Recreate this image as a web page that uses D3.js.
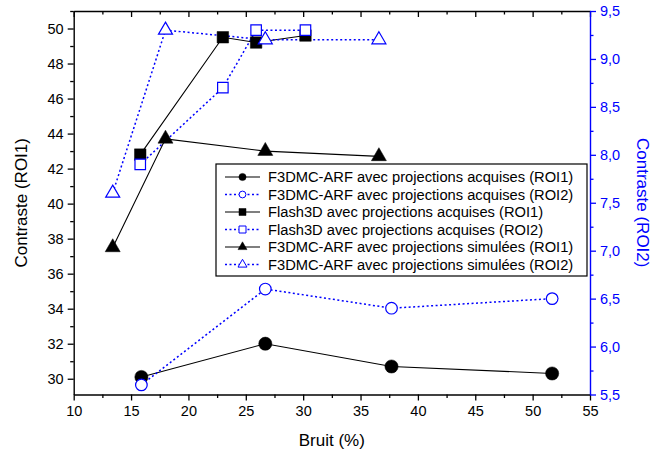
<!DOCTYPE html>
<html>
<head>
<meta charset="utf-8">
<script src="https://cdn.jsdelivr.net/npm/d3@7"></script>
<style>
  html, body { margin: 0; padding: 0; background: #fff; }
  svg { display: block; font-family: "Liberation Sans", Arial, sans-serif; }
</style>
</head>
<body>
<svg id="chart" width="651" height="459"></svg>
<script>
// ---------------- DATA ----------------
const xMajorTicks = [10, 15, 20, 25, 30, 35, 40, 45, 50, 55];
const xMinorTicks = [12.5, 17.5, 22.5, 27.5, 32.5, 37.5, 42.5, 47.5, 52.5];
const leftMajorTicks = [30, 32, 34, 36, 38, 40, 42, 44, 46, 48, 50];
const leftMinorTicks = [31, 33, 35, 37, 39, 41, 43, 45, 47, 49, 51];
const rightMajorTicks = [5.5, 6.0, 6.5, 7.0, 7.5, 8.0, 8.5, 9.0, 9.5];
const rightMinorTicks = [5.75, 6.25, 6.75, 7.25, 7.75, 8.25, 8.75, 9.25];

const noiseF3DMCAcq = [15.9, 26.7, 37.7, 51.7];
const roi1F3DMCAcq  = [30.1, 32.0, 30.7, 30.3];
const roi2F3DMCAcq  = [5.6, 6.6, 6.4, 6.5];

const noiseFlash3D  = [15.8, 23.0, 25.9, 30.2];
const roi1Flash3D   = [42.8, 49.5, 49.2, 49.6];
const roi2Flash3D   = [7.9, 8.7, 9.3, 9.3];

const noiseF3DMCSim = [13.4, 18.0, 26.7, 36.6];
const roi1F3DMCSim  = [37.5, 43.7, 43.0, 42.7];
const roi2F3DMCSim  = [7.6, 9.3, 9.2, 9.2];

const seriesLabels = [
  "F3DMC-ARF avec projections acquises (ROI1)",
  "F3DMC-ARF avec projections acquises (ROI2)",
  "Flash3D avec projections acquises (ROI1)",
  "Flash3D avec projections acquises (ROI2)",
  "F3DMC-ARF avec projections simulées (ROI1)",
  "F3DMC-ARF avec projections simulées (ROI2)"
];

// ---------------- LAYOUT ----------------
const BLUE = "#0000ff";
const X0 = 73.7, X1 = 590, Y0 = 11, Y1 = 394.5;
const svg = d3.select("#chart");

const x = d3.scaleLinear().domain([10, 55]).range([X0, X1]);
const yL = d3.scaleLinear().domain([29.1, 51]).range([Y1, Y0]);
const yR = d3.scaleLinear().domain([5.5, 9.5]).range([Y1, Y0]);

const series = [
  { xs: noiseF3DMCAcq, ys: roi1F3DMCAcq, axis: yL, shape: d3.symbolCircle, size: Math.PI * 6.6 * 6.6, filled: true, lsize: Math.PI * 3.6 * 3.6 },
  { xs: noiseF3DMCAcq, ys: roi2F3DMCAcq, axis: yR, shape: d3.symbolCircle, size: Math.PI * 5.8 * 5.8, filled: false, lsize: Math.PI * 3.4 * 3.4 },
  { xs: noiseFlash3D,  ys: roi1Flash3D,  axis: yL, shape: d3.symbolSquare, size: 11.5 * 11.5, filled: true, lsize: 7 * 7 },
  { xs: noiseFlash3D,  ys: roi2Flash3D,  axis: yR, shape: d3.symbolSquare, size: 10.5 * 10.5, filled: false, lsize: 7 * 7 },
  { xs: noiseF3DMCSim, ys: roi1F3DMCSim, axis: yL, shape: d3.symbolTriangle, size: Math.sqrt(3) / 4 * 15 * 15, filled: true, lsize: Math.sqrt(3) / 4 * 9 * 9 },
  { xs: noiseF3DMCSim, ys: roi2F3DMCSim, axis: yR, shape: d3.symbolTriangle, size: Math.sqrt(3) / 4 * 14 * 14, filled: false, lsize: Math.sqrt(3) / 4 * 9 * 9 }
];

// ---------------- AXES ----------------
function styleAxis(g, color, fontSize) {
  g.selectAll("path.domain").attr("stroke", color).attr("stroke-width", 1.4);
  g.selectAll(".tick line").attr("stroke", color).attr("stroke-width", 1.3);
  g.selectAll(".tick text").attr("fill", color).style("font-size", fontSize + "px")
    .style("font-family", '"Liberation Sans", Arial, sans-serif');
}

// bottom
const gb = svg.append("g").attr("transform", `translate(0,${Y1})`)
  .call(d3.axisBottom(x).tickValues(xMajorTicks).tickSize(6).tickSizeOuter(0).tickPadding(5).tickFormat(d3.format("d")));
styleAxis(gb, "#000", 14.5);
const gbm = svg.append("g").attr("transform", `translate(0,${Y1})`)
  .call(d3.axisBottom(x).tickValues(xMinorTicks).tickSize(3.5).tickFormat(""));
gbm.select("path.domain").remove();
styleAxis(gbm, "#000", 14.5);

// top (mirror, ticks inward)
const gt = svg.append("g").attr("transform", `translate(0,${Y0})`)
  .call(d3.axisBottom(x).tickValues(xMajorTicks).tickSize(6).tickSizeOuter(0).tickFormat(""));
styleAxis(gt, "#000", 14.5);
const gtm = svg.append("g").attr("transform", `translate(0,${Y0})`)
  .call(d3.axisBottom(x).tickValues(xMinorTicks).tickSize(3.5).tickFormat(""));
gtm.select("path.domain").remove();
styleAxis(gtm, "#000", 14.5);

// left
const gl = svg.append("g").attr("transform", `translate(${X0},0)`)
  .call(d3.axisLeft(yL).tickValues(leftMajorTicks).tickSize(6).tickSizeOuter(0).tickPadding(4).tickFormat(d3.format("d")));
styleAxis(gl, "#000", 14.5);
const glm = svg.append("g").attr("transform", `translate(${X0},0)`)
  .call(d3.axisLeft(yL).tickValues(leftMinorTicks).tickSize(3.5).tickFormat(""));
glm.select("path.domain").remove();
styleAxis(glm, "#000", 14.5);

// right (blue)
const commaFmt = d => d3.format(".1f")(d).replace(".", ",");
const gr = svg.append("g").attr("transform", `translate(${X1},0)`)
  .call(d3.axisRight(yR).tickValues(rightMajorTicks).tickSize(6).tickSizeOuter(0).tickPadding(4).tickFormat(commaFmt));
styleAxis(gr, BLUE, 14.5);
const grm = svg.append("g").attr("transform", `translate(${X1},0)`)
  .call(d3.axisRight(yR).tickValues(rightMinorTicks).tickSize(3.5).tickFormat(""));
grm.select("path.domain").remove();
styleAxis(grm, BLUE, 14.5);

// axis titles
svg.append("text").attr("x", (X0 + X1) / 2).attr("y", 446)
  .attr("text-anchor", "middle").style("font-size", "17px").text("Bruit (%)");
svg.append("text").attr("transform", `translate(27,${(Y0 + Y1) / 2}) rotate(-90)`)
  .attr("text-anchor", "middle").style("font-size", "17px").text("Contraste (ROI1)");
svg.append("text").attr("transform", `translate(637,${(Y0 + Y1) / 2}) rotate(90)`)
  .attr("text-anchor", "middle").attr("fill", BLUE).style("font-size", "17px").text("Contraste (ROI2)");

// ---------------- SERIES ----------------
series.forEach(s => {
  const pts = s.xs.map((v, i) => [x(v), s.axis(s.ys[i])]);
  const color = s.filled ? "#000" : BLUE;
  svg.append("path").attr("d", d3.line()(pts)).attr("fill", "none")
    .attr("stroke", color).attr("stroke-width", s.filled ? 1.1 : 1.5)
    .attr("stroke-dasharray", s.filled ? null : "2,2.5");
});
series.forEach(s => {
  const pts = s.xs.map((v, i) => [x(v), s.axis(s.ys[i])]);
  const sym = d3.symbol().type(s.shape).size(s.size);
  svg.append("g").selectAll("path").data(pts).join("path")
    .attr("transform", d => `translate(${d[0]},${d[1]})`)
    .attr("d", sym())
    .attr("fill", s.filled ? "#000" : "#fff")
    .attr("stroke", s.filled ? "#000" : BLUE)
    .attr("stroke-width", s.filled ? 0.5 : 1.2);
});

// ---------------- LEGEND ----------------
const LX = 216, LY = 164, LW = 371, LH = 112, ROW = 17.5;
const lg = svg.append("g");
lg.append("rect").attr("x", LX).attr("y", LY).attr("width", LW).attr("height", LH)
  .attr("fill", "#fff").attr("stroke", "#000").attr("stroke-width", 1.2);
series.forEach((s, i) => {
  const cy = LY + 13 + i * ROW;
  const color = s.filled ? "#000" : BLUE;
  lg.append("line").attr("x1", LX + 9).attr("x2", LX + 44).attr("y1", cy).attr("y2", cy)
    .attr("stroke", color).attr("stroke-width", s.filled ? 1.1 : 1.3)
    .attr("stroke-dasharray", s.filled ? null : "2,2.5");
  lg.append("path").attr("transform", `translate(${LX + 26.5},${cy})`)
    .attr("d", d3.symbol().type(s.shape).size(s.lsize)())
    .attr("fill", s.filled ? "#000" : "#fff")
    .attr("stroke", color).attr("stroke-width", s.filled ? 0.5 : 1);
  lg.append("text").attr("x", LX + 52).attr("y", cy).attr("dy", "0.35em")
    .style("font-size", "14.7px").text(seriesLabels[i]);
});
</script>
</body>
</html>
